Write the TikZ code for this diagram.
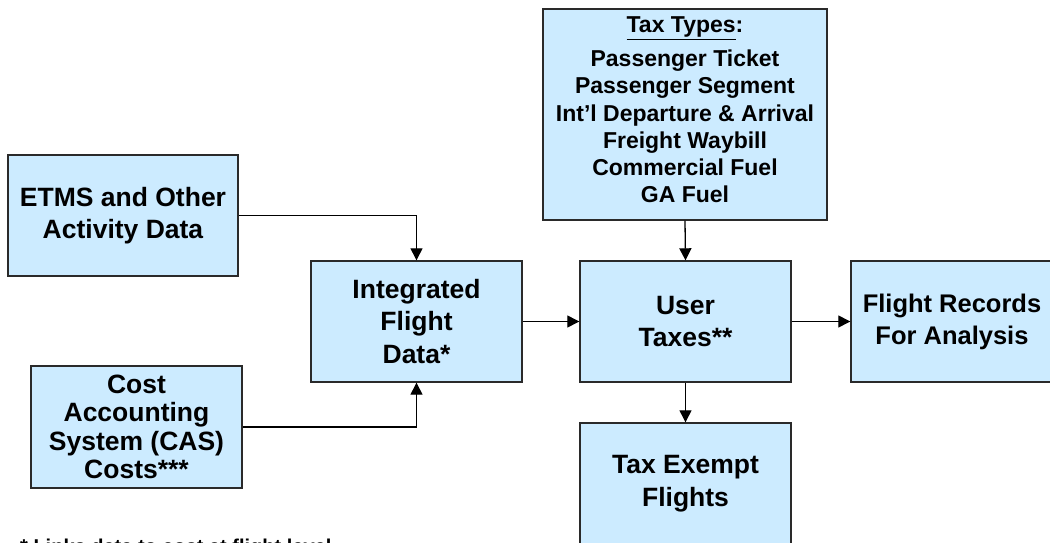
\documentclass[tikz,border=0pt]{standalone}
\usepackage{fontspec}
\setmainfont{Liberation Sans}
\usetikzlibrary{arrows.meta}
\definecolor{boxfill}{HTML}{CCEBFF}
\definecolor{boxline}{HTML}{2A2A2A}
\tikzset{
  blk/.style={draw=boxline, line width=1.4pt, fill=boxfill, rectangle,
    inner sep=0pt, align=center, font=\fontsize{26.5}{32.5}\selectfont\bfseries},
  tight/.style={font=\fontsize{26.5}{28.5}\selectfont\bfseries},
  list/.style={font=\fontsize{23}{27.3}\selectfont\bfseries},
  arr/.style={line width=1.3pt, -{Triangle[length=12pt,width=12pt]}},
}
\begin{document}
\begin{tikzpicture}[x=1pt,y=1pt]
  \clip (0,0) rectangle (1050,542);
  \fill[white] (0,0) rectangle (1050,542);
  % source boxes
  \node[blk, minimum width=230, minimum height=121] (etms) at (123,326.5)
    {ETMS and Other\\Activity Data};
  \node[blk, tight, minimum width=211, minimum height=122] (cas) at (136.5,115)
    {Cost\\Accounting\\System (CAS)\\Costs***};
  % processing chain
  \node[blk, minimum width=211, minimum height=121] (ifd) at (416.5,220.5)
    {Integrated\\Flight\\Data*};
  % the empty last line lifts the list a little inside its box
  \node[blk, list, minimum width=284, minimum height=211] (types) at (685,427.5)
    {\underline{Tax Types}:\\[6.5pt]Passenger Ticket\\Passenger Segment\\Int’l Departure \& Arrival\\Freight Waybill\\Commercial Fuel\\GA Fuel\\[-18pt]\mbox{}};
  \node[blk, minimum width=211, minimum height=121] (user) at (685.5,220.5)
    {User\\Taxes**};
  \node[blk, font=\fontsize{25.5}{32}\selectfont\bfseries, minimum width=202, minimum height=121] (recs) at (952,220.5)
    {Flight Records\\For Analysis};
  \node[blk, minimum width=211, minimum height=121] (exempt) at (685.5,58.5)
    {Tax Exempt\\Flights};
  % connectors
  \draw[arr] (etms.east) -| (ifd.north);
  \draw[arr] (cas.east) -| (ifd.south);
  \draw[arr] (ifd.east) -- (user.west);
  \draw[arr] (types.south) -- (user.north);
  \draw[arr] (user.east) -- (recs.west);
  \draw[arr] (user.south) -- (exempt.north);
  % footnote
  \node[anchor=base west, inner sep=0pt, font=\fontsize{20}{24}\selectfont\bfseries] (note) at (20,-11.5)
    {* Links data to cost at flight level};
\end{tikzpicture}
\end{document}
